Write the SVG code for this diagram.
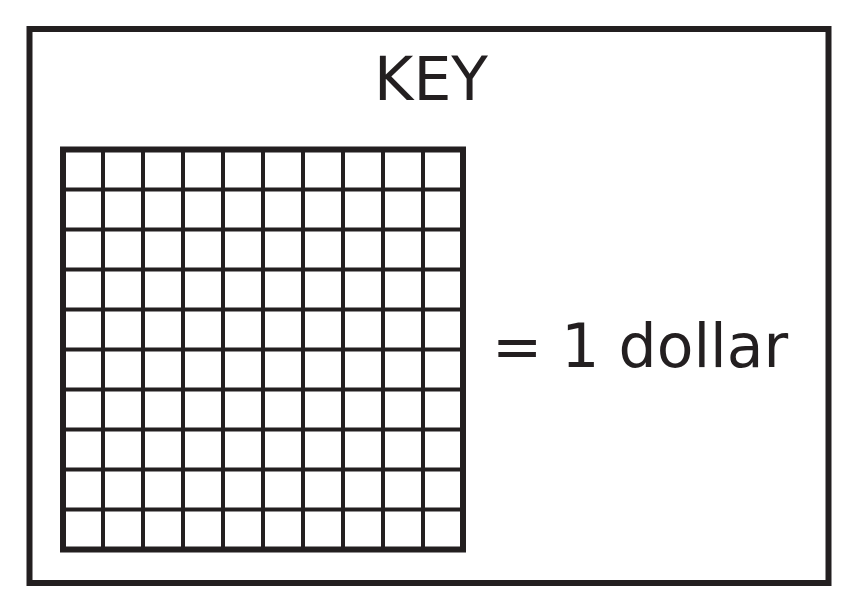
<svg xmlns="http://www.w3.org/2000/svg" width="855" height="606" viewBox="0 0 855 606">
<style>
.t{font-family:"DejaVu Sans","Verdana",sans-serif;font-size:60px;fill:#231f20}
.box{fill:none;stroke:#231f20;stroke-width:6}
.grid{stroke:#231f20;stroke-width:4;fill:none}
</style>
<rect width="855" height="606" fill="#fff"/>
<g id="key-box">
<rect class="box" x="29.5" y="29" width="799" height="554"/>
<text class="t" x="431" y="100" text-anchor="middle">KEY</text>
</g>
<g id="grid">
<path class="grid" d="M103 149.5V549.5M143 149.5V549.5M183 149.5V549.5M223 149.5V549.5M263 149.5V549.5M303 149.5V549.5M343 149.5V549.5M383 149.5V549.5M423 149.5V549.5M63 189.5H463M63 229.5H463M63 269.5H463M63 309.5H463M63 349.5H463M63 389.5H463M63 429.5H463M63 469.5H463M63 509.5H463"/>
<rect class="box" x="63" y="149.5" width="400" height="400" stroke-width="5.5"/>
</g>
<g id="label">
<text class="t" x="492" y="367">= 1 dollar</text>
</g>
</svg>
